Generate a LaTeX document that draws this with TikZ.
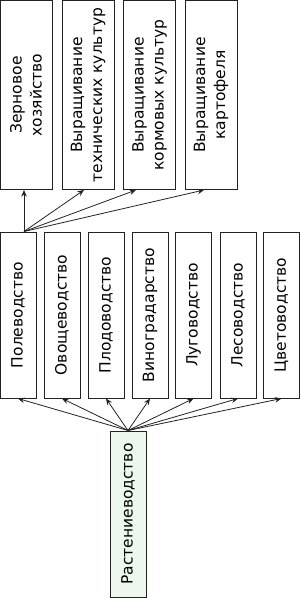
\documentclass[tikz,border=0pt]{standalone}
\usepackage{fontspec}
\setmainfont{DejaVu Sans}
\usepackage{xcolor}
\usetikzlibrary{arrows.meta}
\definecolor{leafgreen}{HTML}{EEF7EE}
\definecolor{bk90}{HTML}{222222}
\tikzset{
  branchbox/.style={
    rectangle, draw=bk90, fill=#1, line width=1pt, rotate=90,
    minimum width=166pt, minimum height=36pt,
    font=\fontsize{15.5}{20}\selectfont, align=center,
    inner sep=0pt
  },
  branchbox/.default=white,
  cropbox/.style={
    rectangle, draw=bk90, fill=white, line width=1pt, rotate=90,
    minimum width=189pt, minimum height=52pt,
    font=\fontsize{15.5}{20}\selectfont, align=center,
    inner sep=0pt
  },
  linkarrow/.style={
    -{Stealth[length=6.5pt, width=5.5pt]}, line width=0.8pt, color=#1
  },
  linkarrow/.default=bk90,
}
\begin{document}
\begin{tikzpicture}[x=1pt, y=1pt]
  \useasboundingbox (0,0) rectangle (300,-598);
  % crop branches of field farming
  \node[cropbox] (z1) at (26,-95) {Зерновое\\хозяйство};
  \node[cropbox] (z2) at (88,-95) {Выращивание\\технических культур};
  \node[cropbox] (z3) at (149.5,-95) {Выращивание\\кормовых культур};
  \node[cropbox] (z4) at (211,-95) {Выращивание\\картофеля};

  % branches of plant growing
  \node[branchbox] (p1) at (18,-315) {Полеводство};
  \node[branchbox] (p2) at (62,-315) {Овощеводство};
  \node[branchbox] (p3) at (106,-315) {Плодоводство};
  \node[branchbox] (p4) at (150,-315) {Виноградарство};
  \node[branchbox] (p5) at (193.5,-315) {Луговодство};
  \node[branchbox] (p6) at (238,-315) {Лесоводство};
  \node[branchbox] (p7) at (281.5,-315) {Цветоводство};

  % root
  \node[branchbox=leafgreen] (root) at (128,-514) {Растениеводство};

  \draw[linkarrow] (root.east) -- (p1.west);
  \draw[linkarrow] (root.east) -- (p2.west);
  \draw[linkarrow] (root.east) -- (p3.west);
  \draw[linkarrow] (root.east) -- (p4.west);
  \draw[linkarrow] (root.east) -- (p5.west);
  \draw[linkarrow] (root.east) -- (p6.west);
  \draw[linkarrow] (root.east) -- (p7.west);

  \draw[linkarrow] ([xshift=6pt]p1.east) -- ([xshift=-2pt]z1.west);
  \draw[linkarrow] ([xshift=6pt]p1.east) -- ([xshift=-4pt]z2.west);
  \draw[linkarrow] ([xshift=6pt]p1.east) -- ([xshift=-13.5pt]z3.west);
  \draw[linkarrow] ([xshift=6pt]p1.east) -- ([xshift=-7pt]z4.west);
\end{tikzpicture}
\end{document}
